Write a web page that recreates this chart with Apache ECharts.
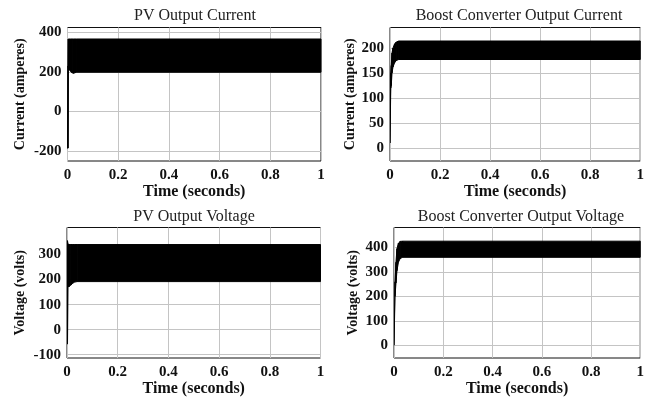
<!DOCTYPE html>
<html>
<head>
<meta charset="utf-8">
<script src="https://cdn.jsdelivr.net/npm/echarts@6/dist/echarts.min.js"></script>
<style>html,body{margin:0;padding:0;background:#fff;}#c{width:647px;height:398px;}</style>
</head>
<body>
<div id="c"></div>
<script>
// Panel titles and axis names
const titles = ['PV Output Current', 'Boost Converter Output Current', 'PV Output Voltage', 'Boost Converter Output Voltage'];
const yNames = ['Current (amperes)', 'Current (amperes)', 'Voltage (volts)', 'Voltage (volts)'];
const xName = 'Time (seconds)';

// Tick labels
const xTicks = [0, 0.2, 0.4, 0.6, 0.8, 1];
const yTicksPVI = [-200, 0, 200, 400];
const yTicksBCI = [0, 50, 100, 150, 200];
const yTicksPVV = [-100, 0, 100, 200, 300];
const yTicksBCV = [0, 100, 200, 300, 400];

// Envelope of the switching ripple (upper and lower bound of the black band)
const tPVI     = [0, 0.002, 0.003, 0.006, 0.012, 0.018, 0.024, 0.035, 1];
const upperPVI = [-185, 230, 366, 366, 366, 366, 366, 366, 366];
const lowerPVI = [-185, -185, 222, 212, 203, 195, 193, 198, 198];

const tBCI     = [0, 0.003, 0.005, 0.008, 0.012, 0.018, 0.025, 0.035, 1];
const upperBCI = [10, 150, 165, 190, 200, 208, 212, 214, 214];
const lowerBCI = [10, 120, 125, 150, 162, 170, 175, 177, 177];

const tPVV     = [0, 0.002, 0.004, 0.008, 0.015, 0.022, 0.03, 0.04, 1];
const upperPVV = [-57, 355, 342, 340, 340, 340, 340, 340, 340];
const lowerPVV = [-57, -57, 172, 172, 178, 185, 190, 192, 192];

const tBCV     = [0, 0.004, 0.008, 0.012, 0.018, 0.025, 0.035, 1];
const upperBCV = [0, 260, 340, 395, 418, 425, 426, 426];
const lowerBCV = [0, 200, 255, 305, 340, 355, 360, 360];

const panels = [
  {t: tPVI, up: upperPVI, lo: lowerPVI, yt: yTicksPVI, min: -250, max: 424,
   grid: {left: 67.5, top: 27.5, width: 253.5, height: 133.5}, nameGap: 40, tx: 195, ty: 16},
  {t: tBCI, up: upperBCI, lo: lowerBCI, yt: yTicksBCI, min: -26, max: 241,
   grid: {left: 390, top: 27.5, width: 256.5, height: 133.5}, nameGap: 31, tx: 519, ty: 16},
  {t: tPVV, up: upperPVV, lo: lowerPVV, yt: yTicksPVV, min: -113, max: 408,
   grid: {left: 67, top: 227.5, width: 253.5, height: 133.3}, nameGap: 40, tx: 194, ty: 216.5},
  {t: tBCV, up: upperBCV, lo: lowerBCV, yt: yTicksBCV, min: -52, max: 482,
   grid: {left: 394, top: 227.5, width: 253, height: 133.3}, nameGap: 34, tx: 521, ty: 216.5}
];

const FONT = "'Liberation Serif', 'Times New Roman', serif";
const chart = echarts.init(document.getElementById('c'), null, {renderer: 'canvas'});

const grids = [], xAxes = [], yAxes = [], series = [], graphics = [];
panels.forEach((p, i) => {
  grids.push(Object.assign({show: true, borderColor: '#111', borderWidth: 1, backgroundColor: '#fff'}, p.grid));
  xAxes.push({
    type: 'value', gridIndex: i, min: 0, max: 1, interval: 0.2,
    name: xName, nameLocation: 'middle', nameGap: 23,
    nameTextStyle: {fontFamily: FONT, fontWeight: 'bold', fontSize: 16, color: '#111'},
    axisLine: {show: false}, axisTick: {show: false},
    axisLabel: {fontFamily: FONT, fontWeight: 'bold', fontSize: 15, color: '#111', margin: 7,
                showMinLabel: true, showMaxLabel: true},
    splitLine: {show: true, lineStyle: {color: '#c4c4c4', width: 1}}
  });
  yAxes.push({
    type: 'value', gridIndex: i, min: p.min, max: p.max,
    name: yNames[i], nameLocation: 'middle', nameGap: p.nameGap, nameRotate: 90,
    nameTextStyle: {fontFamily: FONT, fontWeight: 'bold', fontSize: 14, color: '#111'},
    axisLine: {show: false},
    axisTick: {show: false, customValues: p.yt},
    axisLabel: {fontFamily: FONT, fontWeight: 'bold', fontSize: 15, color: '#111', margin: 6, customValues: p.yt},
    splitLine: {show: true, lineStyle: {color: '#c4c4c4', width: 1}}
  });
  const rows = p.t.map((t, k) => [t, p.lo[k], p.up[k]]);
  series.push({
    type: 'custom', xAxisIndex: i, yAxisIndex: i, data: rows, silent: true, animation: false,
    encode: {x: 0, y: [1, 2]},
    clip: true,
    renderItem: function (params, api) {
      const k = params.dataIndex;
      if (k >= rows.length - 1) return null;
      const t0 = api.value(0), l0 = api.value(1), u0 = api.value(2);
      const n = rows[k + 1];
      const pts = [
        api.coord([t0, l0]), api.coord([n[0], n[1]]),
        api.coord([n[0], n[2]]), api.coord([t0, u0])
      ];
      return {
        type: 'polygon',
        shape: {points: pts},
        style: {fill: '#000', stroke: '#000', lineWidth: 1}
      };
    }
  });
  graphics.push({
    type: 'text', x: p.tx, y: p.ty,
    style: {text: titles[i], fontFamily: FONT, fontSize: 16, fill: '#222', align: 'center', verticalAlign: 'middle'}
  });
});

chart.setOption({
  animation: false,
  grid: grids, xAxis: xAxes, yAxis: yAxes, series: series, graphic: graphics
});
</script>
</body>
</html>
